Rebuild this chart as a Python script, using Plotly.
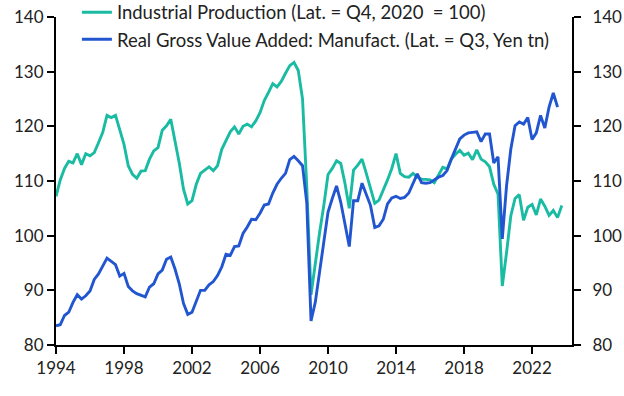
import plotly.graph_objects as go

# ---- data (quarterly, first point = 1994 Q1) ----
start_year = 1994

industrial_production = [
    107.2, 110.2, 112.3, 113.6,   # 1994
    113.3, 115.0, 113.0, 115.0,   # 1995
    114.6, 115.2, 117.0, 118.9,   # 1996
    122.0, 121.6, 122.0, 119.5,   # 1997
    116.7, 112.8, 111.2, 110.5,   # 1998
    111.8, 111.9, 114.0, 115.5,   # 1999
    116.1, 119.3, 120.1, 121.3,   # 2000
    117.6, 113.3, 108.5, 105.8,   # 2001
    106.4, 109.4, 111.4, 112.0,   # 2002
    112.6, 111.9, 112.8, 115.8,   # 2003
    117.3, 119.0, 119.9, 118.6,   # 2004
    120.0, 120.4, 119.9, 121.0,   # 2005
    122.5, 124.7, 126.2, 127.8,   # 2006
    127.2, 128.2, 129.7, 131.1,   # 2007
    131.7, 130.2, 125.0, 109.0,   # 2008
    89.2, 95.0, 100.5, 105.5,     # 2009
    111.2, 112.3, 113.7, 113.2,   # 2010
    109.5, 105.0, 112.0, 112.9,   # 2011
    114.0, 111.4, 108.6, 105.9,   # 2012
    106.5, 108.3, 110.2, 112.3,   # 2013
    115.0, 111.4, 110.8, 110.7,   # 2014
    111.4, 110.7, 110.3, 110.3,   # 2015
    110.2, 109.7, 111.0, 112.5,   # 2016
    112.2, 114.0, 114.9, 115.6,   # 2017
    114.7, 115.1, 113.9, 115.7,   # 2018
    114.0, 113.5, 112.6, 109.4,   # 2019
    107.6, 90.8, 96.9, 103.6,     # 2020
    106.8, 107.5, 102.8, 105.2,   # 2021
    105.7, 103.8, 106.7, 105.4,   # 2022
    103.7, 104.6, 103.3, 105.5,   # 2023
]

real_gva_manufacturing = [
    83.5, 83.7, 85.4, 86.0,       # 1994
    87.8, 89.2, 88.4, 89.0,       # 1995
    89.9, 92.0, 93.0, 94.5,       # 1996
    95.9, 95.3, 94.7, 92.6,       # 1997
    93.1, 90.7, 89.9, 89.4,       # 1998
    89.1, 88.8, 90.6, 91.2,       # 1999
    93.0, 93.7, 95.7, 96.1,       # 2000
    93.9, 91.2, 87.6, 85.6,       # 2001
    86.0, 88.1, 90.0, 90.0,       # 2002
    91.0, 91.6, 92.7, 94.3,       # 2003
    96.6, 96.4, 98.0, 98.1,       # 2004
    100.4, 101.6, 103.0, 102.9,   # 2005
    104.1, 105.6, 105.8, 107.8,   # 2006
    109.4, 110.5, 111.4, 113.9,   # 2007
    114.5, 113.7, 112.8, 106.0,   # 2008
    84.4, 87.8, 93.3, 98.8,       # 2009
    104.3, 106.8, 109.1, 106.1,   # 2010
    102.1, 98.0, 106.4, 106.4,    # 2011
    109.6, 107.6, 105.5, 101.5,   # 2012
    101.8, 103.0, 105.8, 106.9,   # 2013
    107.2, 106.8, 107.0, 107.8,   # 2014
    109.7, 111.3, 109.7, 109.6,   # 2015
    109.7, 110.2, 110.7, 111.0,   # 2016
    111.9, 114.0, 115.8, 117.7,   # 2017
    118.4, 118.8, 118.9, 119.0,   # 2018
    117.2, 118.6, 118.6, 113.3,   # 2019
    114.4, 99.4, 109.1, 115.8,    # 2020
    120.1, 120.8, 120.4, 121.6,   # 2021
    117.6, 118.8, 122.0, 119.7,   # 2022
    123.5, 126.1, 123.5,          # 2023 (to Q3)
]

tick_years = [1994, 1998, 2002, 2006, 2010, 2014, 2018, 2022]
y_ticks = [80, 90, 100, 110, 120, 130, 140]

name_ip = "Industrial Production (Lat. = Q4, 2020\u00a0 = 100)"
name_gva = "Real Gross Value Added: Manufact. (Lat. = Q3, Yen tn)"

TEAL = "#1ABBA3"
BLUE = "#2256D0"
FONT = "Lato"

x_ip = [start_year + i / 4 for i in range(len(industrial_production))]
x_gva = [start_year + i / 4 for i in range(len(real_gva_manufacturing))]

fig = go.Figure()
fig.add_trace(go.Scatter(x=x_ip, y=industrial_production, mode="lines", name=name_ip,
                         line=dict(color=TEAL, width=2.9)))
fig.add_trace(go.Scatter(x=x_gva, y=real_gva_manufacturing, mode="lines", name=name_gva,
                         line=dict(color=BLUE, width=2.9), yaxis="y2"))

axis_common = dict(showline=True, linecolor="black", linewidth=2, ticks="outside",
                   ticklen=7, tickwidth=2, tickcolor="black", showgrid=False,
                   zeroline=False, automargin=False,
                   tickfont=dict(family=FONT, size=17, color="#222"))

fig.update_layout(
    width=624, height=396,
    margin=dict(l=56, r=52, t=17, b=51, autoexpand=False),
    plot_bgcolor="white", paper_bgcolor="white",
    font=dict(family=FONT, size=17, color="#222"),
    xaxis=dict(range=[1994, 2024.35], tickvals=tick_years, **axis_common),
    yaxis=dict(range=[80, 140], tickvals=y_ticks, **axis_common),
    yaxis2=dict(range=[80, 140], tickvals=y_ticks, overlaying="y", side="right",
                ticklabelstandoff=8, **axis_common),
    legend=dict(x=0.0405, y=1.071, xanchor="left", yanchor="top", bgcolor="rgba(0,0,0,0)",
                font=dict(family=FONT, size=18.5, color="#222"), tracegroupgap=0),
    showlegend=True,
)

fig.write_html("out.html", config={"displayModeBar": False},
               post_script="document.body.style.margin='0';")
